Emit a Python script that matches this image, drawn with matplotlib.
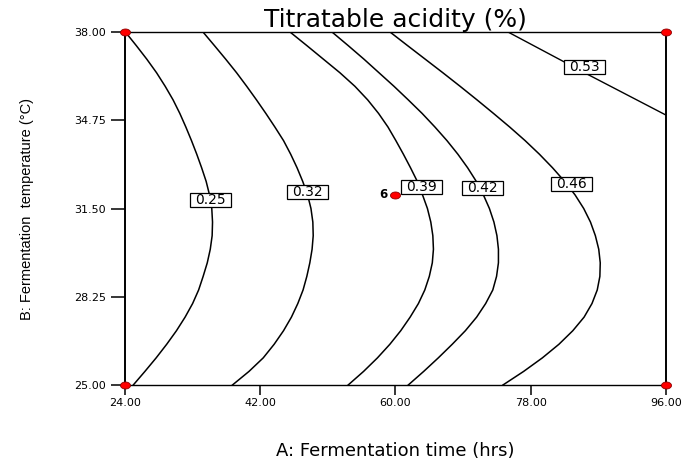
import numpy as np
import matplotlib.pyplot as plt
from matplotlib.path import Path
from matplotlib.ticker import FormatStrFormatter

# contour lines at fixed temperatures
# B = fermentation temperature (C), A = fermentation time (hrs)
b_read = [38.0, 37.5, 37.0, 36.5, 36.0, 35.5, 35.0, 34.5, 34.0, 33.5, 33.0, 32.5, 32.0, 31.5,
          31.0, 30.5, 30.0, 29.5, 29.0, 28.5, 28.0, 27.5, 27.0, 26.5, 26.0, 25.5, 25.0]

a_025 = [24.05, 25.5, 26.9, 28.2, 29.35, 30.4, 31.3, 32.1, 32.85, 33.55, 34.2, 34.8, 35.25, 35.55,
         35.65, 35.6, 35.35, 34.95, 34.4, 33.8, 33.0, 32.0, 30.85, 29.55, 28.15, 26.65, 25.1]
a_032 = [34.38, 35.9, 37.4, 38.85, 40.2, 41.5, 42.75, 43.95, 45.1, 46.05, 46.9, 47.65, 48.3, 48.75,
         49.0, 49.05, 48.9, 48.6, 48.2, 47.7, 47.0, 46.15, 45.1, 43.85, 42.4, 40.5, 38.3]
a_039 = [45.96, 48.2, 50.4, 52.6, 54.6, 56.3, 57.75, 59.0, 60.05, 61.05, 62.0, 62.9, 63.6, 64.25,
         64.7, 64.97, 65.05, 64.9, 64.5, 63.9, 63.05, 61.95, 60.7, 59.25, 57.6, 55.75, 53.7]
a_042 = [51.55, 53.7, 55.8, 57.8, 59.8, 61.7, 63.55, 65.25, 66.85, 68.3, 69.6, 70.75, 71.7, 72.5,
         73.1, 73.5, 73.7, 73.7, 73.45, 72.95, 72.0, 70.8, 69.3, 67.55, 65.7, 63.75, 61.7]
a_046 = [59.27, 61.6, 63.95, 66.3, 68.6, 70.85, 73.05, 75.2, 77.25, 79.15, 80.9, 82.5, 83.9, 85.05,
         85.95, 86.6, 87.05, 87.25, 87.2, 86.85, 86.15, 85.1, 83.6, 81.75, 79.55, 77.05, 74.3]

# the 0.53 line is almost straight
a_053 = [74.97, 85.5, 96.0]
b_053 = [38.0, 36.45, 34.94]

levels = ["0.25", "0.32", "0.39", "0.42", "0.46", "0.53"]
label_a = [35.4, 48.3, 63.5, 71.6, 83.4, 85.2]
label_b = [31.8, 32.1, 32.3, 32.25, 32.4, 36.7]

# design points (corners + centre point with 6 replicates)
design_a = [24, 24, 96, 96]
design_b = [25, 38, 25, 38]
centre_a = 60
centre_b = 32.0
centre_count = "6"

x_ticks = [24, 42, 60, 78, 96]
y_ticks = [25.00, 28.25, 31.50, 34.75, 38.00]


def label_box(x0, y0, width, height, mutation_size):
    # wider than tall, like the Design-Expert labels
    px = 0.38 * mutation_size
    return Path([(x0 - px, y0), (x0 + width + px, y0), (x0 + width + px, y0 + height),
                 (x0 - px, y0 + height), (x0 - px, y0)], closed=True)


t = np.linspace(0, 2 * np.pi, 41)
oval = Path(np.column_stack([np.cos(t), 0.7 * np.sin(t)]))

fig = plt.figure(figsize=(6.83, 4.59), dpi=100)
ax = fig.add_axes([0.183, 0.1612, 0.7921, 0.7691])

for xa in [a_025, a_032, a_039, a_042, a_046]:
    ax.plot(xa, b_read, color='black', lw=1.1, zorder=2)
ax.plot(a_053, b_053, color='black', lw=1.0, zorder=2)

for txt, xa, yb in zip(levels, label_a, label_b):
    ax.text(xa, yb, txt, fontsize=10, ha='center', va='center', zorder=4,
            bbox=dict(boxstyle=label_box, facecolor='white', edgecolor='black', linewidth=0.9))

ax.plot(design_a, design_b, linestyle='none', marker=oval, markersize=7.2,
        markerfacecolor='red', markeredgecolor='#8b0000', markeredgewidth=0.6,
        clip_on=False, zorder=5)
ax.plot([centre_a], [centre_b], linestyle='none', marker=oval, markersize=7.2,
        markerfacecolor='red', markeredgecolor='#8b0000', markeredgewidth=0.6, zorder=5)
ax.annotate(centre_count, xy=(centre_a, centre_b), xytext=(-6, 0), textcoords='offset points',
            ha='right', va='center', fontsize=8.5, fontweight='bold')

ax.set_xlim(24, 96)
ax.set_ylim(25, 38)
ax.set_xticks(x_ticks)
ax.set_yticks(y_ticks)
ax.xaxis.set_major_formatter(FormatStrFormatter('%.2f'))
ax.yaxis.set_major_formatter(FormatStrFormatter('%.2f'))
ax.tick_params(axis='x', direction='out', length=7.2, width=1.1, pad=2.5, labelsize=8)
ax.tick_params(axis='y', direction='out', length=10, width=1.1, pad=3.6, labelsize=8)

for side in ['top', 'bottom']:
    ax.spines[side].set_linewidth(1.0)
for side in ['left', 'right']:
    ax.spines[side].set_linewidth(1.4)

ax.set_title('Titratable acidity (%)', fontsize=18, pad=3.6)
ax.set_xlabel('A: Fermentation time (hrs)', fontsize=13, va='baseline')
ax.xaxis.set_label_coords(0.5, -0.201)
ax.set_ylabel('B: Fermentation  temperature (°C)', family='Liberation Sans', fontsize=10.5)
ax.yaxis.set_label_coords(-0.168, 0.5)

plt.savefig('out.png', dpi=100)
